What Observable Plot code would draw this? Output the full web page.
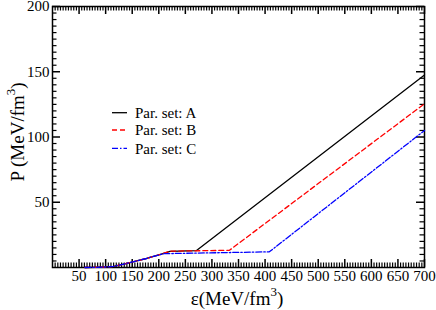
<!DOCTYPE html>
<html><head><meta charset="utf-8">
<script src="https://cdn.jsdelivr.net/npm/d3@7"></script>
<script src="https://cdn.jsdelivr.net/npm/@observablehq/plot@0.6"></script>
<style>body{margin:0;background:#fff}</style>
</head><body><div id="chart"></div>
<script>
// Series data (energy density ε in MeV/fm^3, pressure P in MeV/fm^3)
const epsA = [61, 80, 100, 115, 130, 146, 160, 177, 190, 205, 221, 271, 700];
const pA   = [0, 0.1, 0.4, 0.8, 2.2, 3.8, 5.2, 6.9, 8.5, 10.3, 12.3, 13.0, 147.5];
const epsB = [61, 80, 100, 115, 130, 146, 160, 177, 190, 205, 221, 333, 700];
const pB   = [0, 0.1, 0.4, 0.8, 2.2, 3.8, 5.2, 6.9, 8.5, 10.3, 12.5, 13.2, 125.5];
const epsC = [61, 80, 100, 115, 130, 146, 160, 177, 190, 200, 210, 408, 700];
const pC   = [0, 0.1, 0.4, 0.8, 2.2, 3.8, 5.2, 6.9, 8.5, 9.6, 10.6, 12.0, 105];
const seriesNames = ["Par. set: A", "Par. set: B", "Par. set: C"];
const seriesColors = ["#000000", "#ff0000", "#0000ff"];
const seriesDash = [null, "5,3", "6,2,1.5,2"];

const xMajor = [50,100,150,200,250,300,350,400,450,500,550,600,650,700];
const yMajor = [50,100,150,200];
const xMinor = [5,10,15,20,25,30,35,40,45,55,60,65,70,75,80,85,90,95,105,110,115,120,125,130,135,140,145,155,160,165,170,175,180,185,190,195,205,210,215,220,225,230,235,240,245,255,260,265,270,275,280,285,290,295,305,310,315,320,325,330,335,340,345,355,360,365,370,375,380,385,390,395,405,410,415,420,425,430,435,440,445,455,460,465,470,475,480,485,490,495,505,510,515,520,525,530,535,540,545,555,560,565,570,575,580,585,590,595,605,610,615,620,625,630,635,640,645,655,660,665,670,675,680,685,690,695];
const yMinor = [5,10,15,20,25,30,35,40,45,55,60,65,70,75,80,85,90,95,105,110,115,120,125,130,135,140,145,155,160,165,170,175,180,185,190,195];

const W = 436, H = 310, mL = 52, mR = 12, mT = 6, mB = 43;
const xDom = [0, 700], yDom = [0, 200];
const majL = 8, minL = 4.5;

const toRows = (xs, ys, s) => xs.map((x, i) => ({eps: x, p: ys[i], s}));
const rows = [
  ...toRows(epsA, pA, 0),
  ...toRows(epsB, pB, 1),
  ...toRows(epsC, pC, 2)
];

const font = "Liberation Serif, Times New Roman, serif";
const iH = H - mT - mB, iW = W - mL - mR;
const tk = (w) => ({stroke: "#000", strokeWidth: w, strokeOpacity: 1});

const marks = [
  // tick marks inside the frame on all four sides (major & minor)
  Plot.tickX(xMinor, {x: d => d, insetTop: iH - minL, ...tk(1.2)}),
  Plot.tickX(xMinor, {x: d => d, insetBottom: iH - minL, ...tk(1.2)}),
  Plot.tickX(xMajor, {x: d => d, insetTop: iH - majL, ...tk(1.5)}),
  Plot.tickX(xMajor, {x: d => d, insetBottom: iH - majL, ...tk(1.5)}),
  Plot.tickY(yMinor, {y: d => d, insetRight: iW - minL, ...tk(1.2)}),
  Plot.tickY(yMinor, {y: d => d, insetLeft: iW - minL, ...tk(1.2)}),
  Plot.tickY(yMajor, {y: d => d, insetRight: iW - majL, ...tk(1.5)}),
  Plot.tickY(yMajor, {y: d => d, insetLeft: iW - majL, ...tk(1.5)}),
  Plot.frame({stroke: "#000", strokeWidth: 1.5})
];
for (let s = 0; s < 3; s++) {
  marks.push(Plot.line(rows.filter(r => r.s === s), {
    x: "eps", y: "p", stroke: seriesColors[s], strokeWidth: 1.3,
    strokeDasharray: seriesDash[s]
  }));
}
marks.push(Plot.axisX(xMajor, {tickSize: 0, tickPadding: 3, fontSize: 15, label: null}));
marks.push(Plot.axisY(yMajor, {tickSize: 0, tickPadding: 3, fontSize: 15, label: null}));

const chart = Plot.plot({
  width: W, height: H,
  marginLeft: mL, marginRight: mR, marginTop: mT, marginBottom: mB,
  x: {domain: xDom},
  y: {domain: yDom},
  style: {fontFamily: font, fontSize: "15px", background: "#fff", color: "#000", overflow: "visible"},
  marks
});

const svg = d3.select(chart);
// legend
const legY = [112.7, 130, 148.3];
seriesNames.forEach((name, i) => {
  svg.append("line").attr("x1", 112).attr("x2", 127).attr("y1", legY[i]).attr("y2", legY[i])
    .attr("stroke", seriesColors[i]).attr("stroke-width", 1.3)
    .attr("stroke-dasharray", seriesDash[i]);
  svg.append("text").attr("x", 135).attr("y", legY[i]).attr("dy", "0.35em")
    .attr("text-anchor", "start")
    .attr("font-family", font).attr("font-size", 15).attr("fill", "#000").text(name);
});
// axis labels
const xl = svg.append("text").attr("x", 237).attr("y", 305).attr("text-anchor", "middle")
  .attr("font-family", font).attr("font-size", 19).attr("fill", "#000");
xl.append("tspan").text("ε(MeV/fm");
xl.append("tspan").attr("font-size", 13).attr("dy", -9).text("3");
xl.append("tspan").attr("dy", 9).text(")");

const yl = svg.append("text").attr("transform", "translate(24,132) rotate(-90)").attr("text-anchor", "middle")
  .attr("font-family", font).attr("font-size", 19).attr("fill", "#000");
yl.append("tspan").text("P (MeV/fm");
yl.append("tspan").attr("font-size", 13).attr("dy", -9).text("3");
yl.append("tspan").attr("dy", 9).text(")");

document.getElementById("chart").appendChild(chart);
</script></body></html>
